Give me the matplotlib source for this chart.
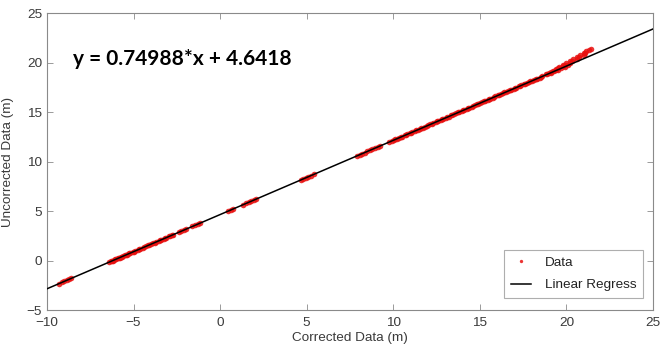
import matplotlib
matplotlib.use("Agg")
import matplotlib.pyplot as plt
import numpy as np

plt.rcParams["font.family"] = ["Liberation Sans", "DejaVu Sans"]

# Data (Corrected vs Uncorrected, metres)
x_data = [
    -9.30, -9.15, -9.00, -8.85, -8.70, -8.60,
    -6.40, -6.30, -6.20, -6.10, -6.00, -5.90, -5.80, -5.70, -5.60, -5.50,
    -5.40, -5.30, -5.20, -5.05, -4.90, -4.75, -4.60, -4.45, -4.30, -4.15,
    -4.00, -3.85, -3.70, -3.55, -3.40, -3.25, -3.10, -2.95, -2.80, -2.70,
    -2.40, -2.25, -2.10, -1.95,
    -1.60, -1.45, -1.30, -1.15,
    0.45, 0.60, 0.72,
    1.35, 1.50, 1.65, 1.80, 1.95, 2.10,
    4.65, 4.80, 4.95, 5.10, 5.25, 5.40,
    7.90, 8.05, 8.20, 8.35, 8.50, 8.65, 8.80, 8.95, 9.10, 9.25,
    9.75, 9.90, 10.05, 10.20, 10.35, 10.50, 10.65, 10.80, 10.95, 11.10,
    11.25, 11.40, 11.55, 11.70, 11.85, 12.00, 12.15, 12.30, 12.45, 12.60,
    12.75, 12.90, 13.05, 13.20, 13.35, 13.50, 13.65, 13.80, 13.95, 14.10,
    14.25, 14.40, 14.55, 14.70, 14.85, 15.00, 15.15, 15.30, 15.45, 15.60,
    15.75, 15.90, 16.05, 16.20, 16.35, 16.50, 16.65, 16.80, 16.95, 17.10,
    17.25, 17.40, 17.55, 17.70, 17.85, 18.00, 18.15, 18.30, 18.45, 18.60,
    18.80, 19.00, 19.20, 19.40, 19.60, 19.80, 20.00, 20.20, 20.40, 20.60,
    20.80, 21.00, 21.15, 21.30, 21.40,
    18.90, 19.10, 19.30, 19.50, 19.70, 19.90, 20.10,
    19.40, 19.80, 20.20, 20.60, 21.00,
    -6.25, -6.05, -5.85, -5.65, -5.45, -5.25, -4.98, -4.68, -4.38, -4.08,
    -3.78, -3.48, -3.18, -2.88,
    10.12, 10.42, 10.72, 11.02, 11.32, 11.62, 11.92, 12.22, 12.52, 12.82,
    13.12, 13.42, 13.72, 14.02, 14.32, 14.62, 14.92, 15.22, 15.52, 15.82,
    16.12, 16.42, 16.72, 17.02, 17.32, 17.62, 17.92, 18.22, 18.52,
    19.10, 19.50, 19.90, 20.30, 20.70, 21.10,
]
y_data = [
    -2.34, -2.21, -2.10, -1.99, -1.88, -1.80,
    -0.16, -0.08, 0.00, 0.08, 0.15, 0.22, 0.29, 0.37, 0.44, 0.52,
    0.59, 0.67, 0.74, 0.86, 0.97, 1.08, 1.19, 1.31, 1.42, 1.53,
    1.64, 1.76, 1.87, 1.98, 2.09, 2.21, 2.32, 2.43, 2.54, 2.62,
    2.84, 2.96, 3.07, 3.18,
    3.44, 3.56, 3.67, 3.78,
    4.98, 5.09, 5.18,
    5.65, 5.77, 5.88, 5.99, 6.10, 6.22,
    8.13, 8.24, 8.35, 8.47, 8.58, 8.69,
    10.57, 10.68, 10.79, 10.90, 11.02, 11.13, 11.24, 11.35, 11.47, 11.58,
    11.95, 12.07, 12.18, 12.29, 12.40, 12.52, 12.63, 12.74, 12.85, 12.97,
    13.08, 13.19, 13.30, 13.42, 13.53, 13.64, 13.75, 13.87, 13.98, 14.09,
    14.20, 14.32, 14.43, 14.54, 14.65, 14.77, 14.88, 14.99, 15.10, 15.22,
    15.33, 15.44, 15.55, 15.67, 15.78, 15.89, 16.00, 16.12, 16.23, 16.34,
    16.45, 16.57, 16.68, 16.79, 16.90, 17.02, 17.13, 17.24, 17.35, 17.47,
    17.58, 17.69, 17.80, 17.92, 18.03, 18.14, 18.25, 18.37, 18.48, 18.61,
    18.79, 18.98, 19.17, 19.37, 19.56, 19.76, 19.95, 20.15, 20.35, 20.55,
    20.75, 20.96, 21.12, 21.28, 21.38,
    18.82, 18.97, 19.12, 19.27, 19.42, 19.57, 19.72,
    19.24, 19.60, 19.98, 20.36, 20.75,
    -0.05, 0.11, 0.26, 0.40, 0.56, 0.71, 0.90, 1.13, 1.36, 1.58,
    1.80, 2.03, 2.26, 2.48,
    12.26, 12.48, 12.71, 12.93, 13.16, 13.38, 13.61, 13.83, 14.06, 14.28,
    14.51, 14.73, 14.96, 15.18, 15.41, 15.63, 15.86, 16.08, 16.31, 16.53,
    16.76, 16.98, 17.21, 17.43, 17.66, 17.88, 18.11, 18.33, 18.56,
    19.05, 19.42, 19.80, 20.17, 20.55, 20.93,
]

slope = 0.74988
intercept = 4.6418
fit_x = [-10, 25]

x_ticks = [-10, -5, 0, 5, 10, 15, 20, 25]
y_ticks = [-5, 0, 5, 10, 15, 20, 25]

fig = plt.figure(figsize=(6.72, 3.52), dpi=100)
ax = fig.add_axes([0.0699, 0.1193, 0.9018, 0.8437])

ax.plot(x_data, y_data, linestyle="none", marker="o", markersize=4,
        color="#e8100f", alpha=0.85, markeredgewidth=0, label="Data", zorder=2)
fit_y = [slope * v + intercept for v in fit_x]
ax.plot(fit_x, fit_y, color="black", linewidth=1.1, label="Linear Regress", zorder=3)

ax.set_xlim(-10, 25)
ax.set_ylim(-5, 25)
ax.set_xticks(x_ticks)
ax.set_yticks(y_ticks)

gray = "#3a3a3a"
for s in ax.spines.values():
    s.set_color("#8a8a8a")
    s.set_linewidth(0.8)
ax.tick_params(direction="in", top=True, right=True, length=4, width=0.6,
               colors="#8a8a8a", labelcolor=gray, labelsize=9.7)
ax.tick_params(axis="x", pad=5)
ax.set_xlabel("Corrected Data (m)", fontsize=9.7, color=gray, labelpad=2)
ax.set_ylabel("Uncorrected Data (m)", fontsize=9.7, color=gray, labelpad=9)

ax.text(0.043, 0.845, "y = 0.74988*x + 4.6418", transform=ax.transAxes,
        fontsize=15, family="Lato", weight="bold", color="black",
        va="center", ha="left")

leg = ax.legend(loc="lower right", bbox_to_anchor=(0.9835, 0.04),
                fontsize=9.7, frameon=True, fancybox=False,
                handlelength=1.5, handletextpad=1.0, labelspacing=0.75,
                borderpad=0.5, borderaxespad=0, markerscale=0.6)
leg.get_frame().set_edgecolor("#9a9a9a")
leg.get_frame().set_linewidth(0.8)
for t in leg.get_texts():
    t.set_color("#222222")

fig.savefig("out.png", dpi=100)
